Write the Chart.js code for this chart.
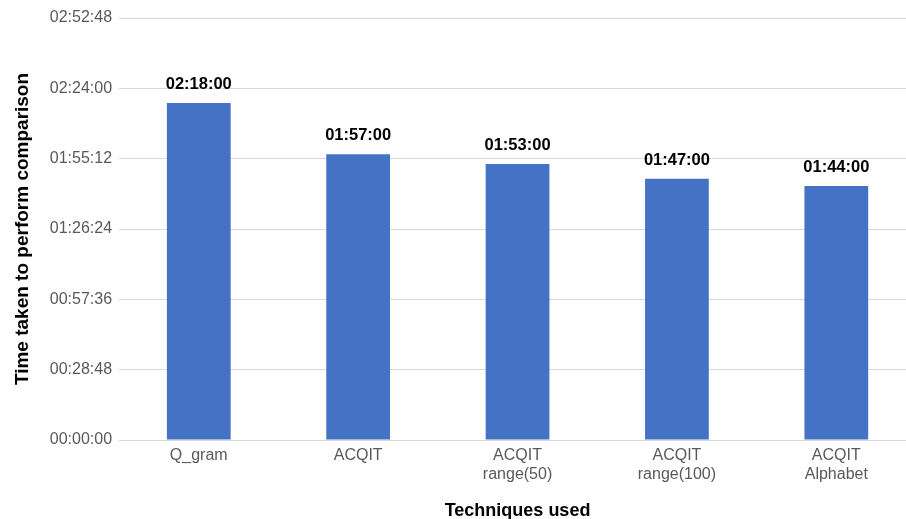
<!DOCTYPE html>
<html>
<head>
<meta charset="utf-8">
<script src="https://cdn.jsdelivr.net/npm/chart.js@4/dist/chart.umd.min.js"></script>
<style>
html,body{margin:0;padding:0;background:#fff;overflow:hidden;width:906px;height:519px;}
#wrap{position:absolute;left:0;top:0;width:917px;height:522px;}
</style>
</head>
<body>
<div id="wrap"><canvas id="c"></canvas></div>
<script>
const categories = [["Q_gram"], ["ACQIT"], ["ACQIT", "range(50)"], ["ACQIT", "range(100)"], ["ACQIT", "Alphabet"]];
const valueLabels = ["02:18:00", "01:57:00", "01:53:00", "01:47:00", "01:44:00"];
// seconds
const seriesSeconds = [8280, 7020, 6780, 6420, 6240];
const yTickMax = 10368;   // 02:52:48
const yTickStep = 1728;   // 00:28:48

function fmt(s){
  s = Math.round(s);
  const h = Math.floor(s/3600), m = Math.floor((s%3600)/60), sec = s%60;
  const p = n => String(n).padStart(2,'0');
  return p(h)+':'+p(m)+':'+p(sec);
}

const FONT = '"Liberation Sans", Arial, sans-serif';

const labelPlugin = {
  id:'valLabels',
  afterDatasetsDraw(chart){
    const ctx = chart.ctx;
    const meta = chart.getDatasetMeta(0);
    ctx.save();
    ctx.font = 'bold 16.5px ' + FONT;
    ctx.fillStyle = '#000';
    ctx.textAlign = 'center';
    ctx.textBaseline = 'alphabetic';
    meta.data.forEach((bar,i)=>{
      ctx.fillText(valueLabels[i], bar.x, bar.y - 14);
    });
    ctx.restore();
  }
};

new Chart(document.getElementById('c'), {
  type:'bar',
  data:{
    labels: categories,
    datasets:[{
      data: seriesSeconds,
      backgroundColor:'#4472C4',
      borderWidth:0,
      categoryPercentage:1.0,
      barPercentage:0.4
    }]
  },
  options:{
    responsive:true,
    maintainAspectRatio:false,
    animation:false,
    layout:{padding:{top:18,right:1,left:11,bottom:0}},
    plugins:{legend:{display:false},tooltip:{enabled:false}},
    scales:{
      x:{
        grid:{display:false,drawTicks:false},
        border:{display:true,color:'#d9d9d9',width:1},
        ticks:{color:'#595959',font:{family:FONT,size:16,lineHeight:1.2},padding:6,maxRotation:0,autoSkip:false},
        title:{display:true,text:'Techniques used',color:'#000',font:{family:FONT,size:18,weight:'bold'},padding:{top:10,bottom:0}}
      },
      y:{
        min:0,max:yTickMax,
        grid:{color:'#d9d9d9',drawTicks:false},
        border:{display:false},
        ticks:{stepSize:yTickStep,color:'#595959',font:{family:FONT,size:16},padding:7,callback:v=>fmt(v)},
        title:{display:true,text:'Time taken to perform comparison',color:'#000',font:{family:FONT,size:19,weight:'bold'},padding:{top:0,bottom:9}}
      }
    }
  },
  plugins:[labelPlugin]
});
</script>
</body>
</html>
